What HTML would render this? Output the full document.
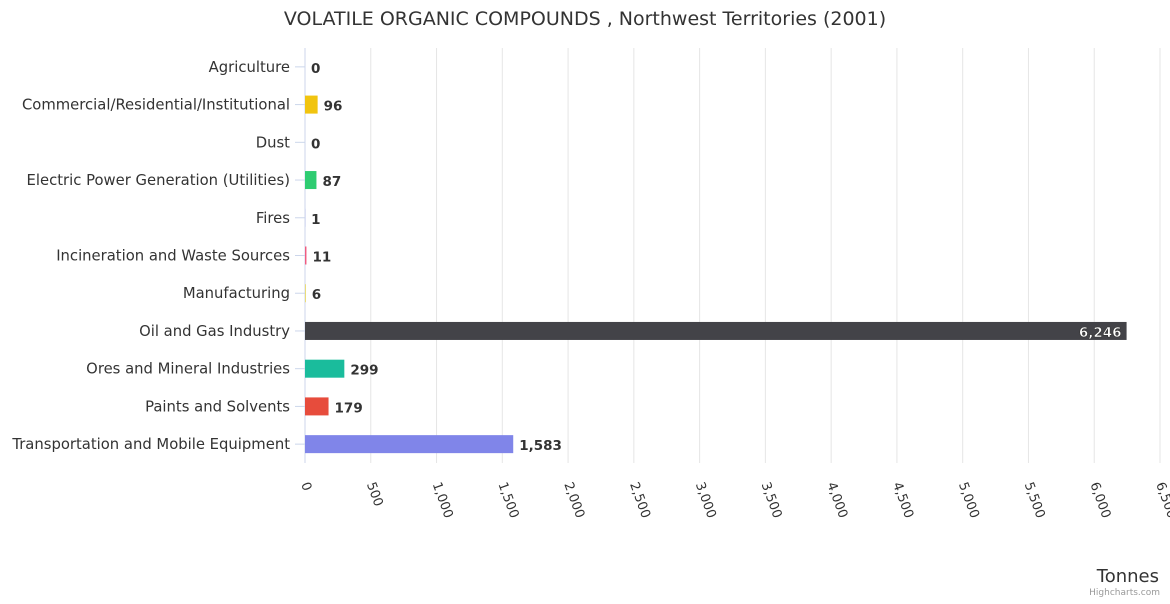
<!DOCTYPE html>
<html><head><meta charset="utf-8"><style>
body{margin:0;background:#fff;font-family:"DejaVu Sans","Liberation Sans",sans-serif}
</style></head><body>
<svg id="c" width="1170" height="600" xmlns="http://www.w3.org/2000/svg">
<text x="585" y="25" text-anchor="middle" font-size="19" fill="#333">VOLATILE ORGANIC COMPOUNDS , Northwest Territories (2001)</text>
<g id="grid"></g><g id="bars"></g>
<text x="1159" y="582" text-anchor="end" font-size="18" fill="#333">Tonnes</text>
<text x="1160" y="595" text-anchor="end" font-size="9" fill="#999">Highcharts.com</text>
</svg>
<script>
const categories=["Agriculture","Commercial/Residential/Institutional","Dust","Electric Power Generation (Utilities)","Fires","Incineration and Waste Sources","Manufacturing","Oil and Gas Industry","Ores and Mineral Industries","Paints and Solvents","Transportation and Mobile Equipment"];
const values=[0,96,0,87,1,11,6,6246,299,179,1583];
const colors=["#7cb5ec","#f1c40f","#90ed7d","#2ecc71","#8085e9","#f15c80","#e4d354","#434348","#1abc9c","#e74c3c","#8085e9"];
const ticks=[0,500,1000,1500,2000,2500,3000,3500,4000,4500,5000,5500,6000,6500];
const NS="http://www.w3.org/2000/svg";
const x0=305,x1=1160,plotTop=48,plotBot=463,maxV=6500;
const xs=v=>x0+v/maxV*(x1-x0);
const rowH=(plotBot-plotTop)/categories.length;
const ys=i=>plotTop+rowH*(i+0.5);
function mk(t,a,p){const e=document.createElementNS(NS,t);for(const k in a)e.setAttribute(k,a[k]);p.appendChild(e);return e;}
const g=document.getElementById('grid'),b=document.getElementById('bars');
ticks.forEach(t=>{
 const x=xs(t);
 if(t>0){const l=mk('line',{x1:x,x2:x,y1:plotTop,y2:plotBot,stroke:'#e6e6e6'},g);
 
 }
 const tx=mk('text',{x:x-4,y:484,'font-size':13,fill:'#333',transform:`rotate(70 ${x-4} 484)`},g);
 tx.textContent=t.toLocaleString('en-US');
 
 
});
const ax=mk('line',{x1:x0,x2:x0,y1:plotTop,y2:plotBot,stroke:'#ccd6eb'},g);


categories.forEach((c,i)=>{
 const y=ys(i);
 mk('line',{x1:x0-10,x2:x0,y1:y,y2:y,stroke:'#ccd6eb'},g);
 const lb=mk('text',{x:290,y:y+5,'text-anchor':'end','font-size':14.8,fill:'#333'},g);
 lb.textContent=c;
 
 
 const w=xs(values[i])-x0;
 const r=mk('rect',{x:x0,y:y-9,width:Math.max(w,0),height:18,fill:colors[i]},b);
 
 
 const inside=xs(values[i])+50>x1;
 const vt=mk('text',{x:inside?xs(values[i])-5:xs(values[i])+6,y:y+6,'text-anchor':inside?'end':'start','font-size':13.5,'font-weight':'bold',fill:inside?'#fff':'#333',stroke:inside?'#333':'none','stroke-width':inside?0.6:0},b);
 vt.textContent=values[i].toLocaleString('en-US');
 
 
});
</script>
</body></html>
